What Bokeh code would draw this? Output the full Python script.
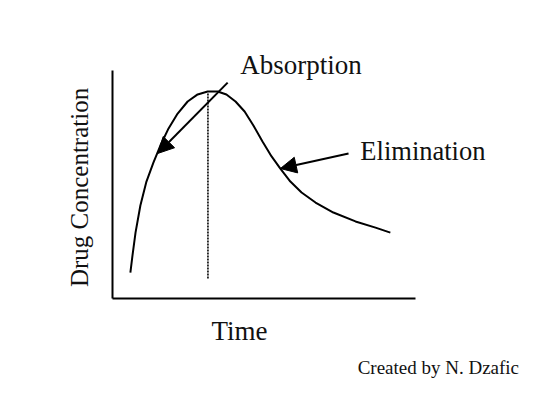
import math
from bokeh.plotting import figure
from bokeh.models import Range1d, Label, Arrow, NormalHead, FixedTicker
from bokeh.embed import file_html
from bokeh.resources import INLINE

# Curve data (time, drug concentration) in arbitrary units
time = [0.59, 0.66, 0.76, 0.92, 1.12, 1.35, 1.58, 1.85, 2.15, 2.48, 2.81, 3.14,
        3.47, 3.76, 4.06, 4.36, 4.65, 4.95, 5.25, 5.54, 5.87, 6.24, 6.70, 7.29,
        8.02, 8.68, 9.17]
conc = [1.14, 1.89, 2.89, 4.08, 5.13, 5.96, 6.71, 7.46, 8.11, 8.64, 8.95, 9.08,
        9.08, 8.95, 8.64, 8.20, 7.59, 6.89, 6.23, 5.70, 5.13, 4.65, 4.21, 3.77,
        3.38, 3.11, 2.89]

# Peak marker (dotted vertical line)
peak_x = [3.15, 3.15]
peak_y = [8.99, 0.88]

# Annotation arrows: (x_start, y_start, x_end, y_end)
absorption_arrow = (3.80, 9.47, 1.49, 6.36)
elimination_arrow = (7.79, 6.36, 5.54, 5.70)

FONT = "Liberation Serif"
W, H = 540, 386
X0, SX = 112.0, 30.3    # pixel of x=0, pixels per unit
Y0, SY = 298.0, 22.8    # pixel of y=0, pixels per unit

p = figure(width=W, height=H, output_backend="svg", toolbar_location=None,
           x_range=Range1d(-X0 / SX, (W - X0) / SX),
           y_range=Range1d((Y0 - H) / SY, Y0 / SY),
           min_border=0)
p.outline_line_color = None
p.xgrid.visible = False
p.ygrid.visible = False
p.background_fill_color = "white"
p.border_fill_color = "white"

for ax in (p.xaxis[0], p.yaxis[0]):
    ax.ticker = FixedTicker(ticks=[])
    ax.major_tick_line_color = None
    ax.minor_tick_line_color = None
    ax.major_tick_out = 0
    ax.major_label_text_font_size = "0px"
    ax.axis_line_width = 2
    ax.axis_line_color = "black"
    ax.fixed_location = 0
    ax.bounds = (0, 10)
    ax.axis_label = None

p.line(time, conc, line_color="black", line_width=2)
p.line(peak_x, peak_y, line_color="black", line_width=1.6, line_dash="2 1")

for (xs, ys, xe, ye) in (absorption_arrow, elimination_arrow):
    p.add_layout(Arrow(end=NormalHead(size=16, fill_color="black", line_color="black"),
                       x_start=xs, y_start=ys, x_end=xe, y_end=ye,
                       line_color="black", line_width=2))

def lab(x, y, t, size, align="left", angle=0.0, baseline="alphabetic"):
    p.add_layout(Label(x=x, y=y, text=t, text_font=FONT, text_font_size=size,
                       text_color="#111111", text_align=align, angle=angle,
                       text_baseline=baseline))

lab(4.22, 10.22, "Absorption", "27px")
lab(8.18, 6.45, "Elimination", "26.5px")
lab(4.19, -1.44, "Time", "27px", align="center")
lab(8.09, -3.02, "Created by N. Dzafic", "19px")
lab(-1.08, 4.87, "Drug Concentration", "25px", align="center", angle=math.pi / 2,
    baseline="alphabetic")

open("out.html", "w").write(file_html(p, INLINE))
